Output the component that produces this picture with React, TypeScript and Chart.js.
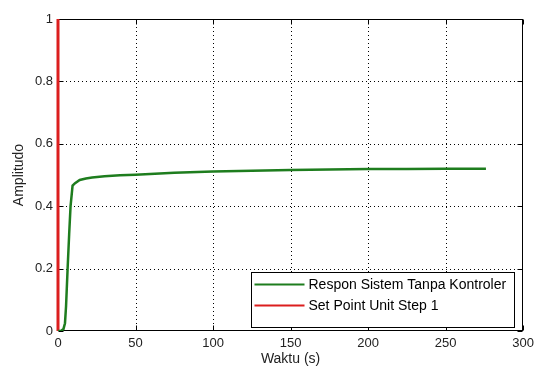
import React, { useEffect, useRef } from "react";
import { Chart, registerables } from "chart.js";

Chart.register(...registerables);

const xTicks = [0, 50, 100, 150, 200, 250, 300];
const yTicks = [0, 0.2, 0.4, 0.6, 0.8, 1];

const greenLabel = "Respon Sistem Tanpa Kontroler";
const greenT = [0, 2, 3.5, 4.5, 5.2, 6.2, 7.2, 8.1, 9.4, 11, 14, 18, 22, 30, 40, 50, 75, 100, 125, 150, 175, 200, 225, 250, 276];
const greenY = [0, 0.001, 0.006, 0.025, 0.08, 0.2, 0.31, 0.4, 0.466, 0.474, 0.484, 0.489, 0.492, 0.496, 0.499, 0.501, 0.507, 0.511, 0.514, 0.516, 0.518, 0.519, 0.519, 0.52, 0.52];

const redLabel = "Set Point Unit Step 1";
const redT = [0, 0];
const redY = [0, 1];

const GREEN = "#1e7d1e";
const RED = "#dc1e1e";
const FONT = "'Liberation Sans', Arial, sans-serif";

const framePlugin = {
  id: "matlabFrame",
  beforeDatasetsDraw(chart: any) {
    const { ctx, chartArea: a, scales } = chart;
    ctx.save();
    ctx.strokeStyle = "#000";
    ctx.lineWidth = 1;
    ctx.setLineDash([1, 3]);
    for (const v of xTicks) {
      const px = Math.round(scales.x.getPixelForValue(v)) + 0.5;
      if (px <= a.left + 1 || px >= a.right - 1) continue;
      ctx.beginPath();
      ctx.moveTo(px, a.top);
      ctx.lineTo(px, a.bottom);
      ctx.stroke();
    }
    for (const v of yTicks) {
      const py = Math.round(scales.y.getPixelForValue(v)) + 0.5;
      if (py <= a.top + 1 || py >= a.bottom - 1) continue;
      ctx.beginPath();
      ctx.moveTo(a.left, py);
      ctx.lineTo(a.right, py);
      ctx.stroke();
    }
    ctx.setLineDash([]);
    const L = Math.round(a.left) + 0.5;
    const R = Math.round(a.right) - 0.5;
    const T = Math.round(a.top) + 0.5;
    const B = Math.round(a.bottom) - 0.5;
    const tl = 5;
    ctx.beginPath();
    for (const v of xTicks) {
      const px = Math.round(scales.x.getPixelForValue(v)) + 0.5;
      ctx.moveTo(px, B);
      ctx.lineTo(px, B - tl);
      ctx.moveTo(px, T);
      ctx.lineTo(px, T + tl);
    }
    for (const v of yTicks) {
      const py = Math.round(scales.y.getPixelForValue(v)) + 0.5;
      ctx.moveTo(L, py);
      ctx.lineTo(L + tl, py);
      ctx.moveTo(R, py);
      ctx.lineTo(R - tl, py);
    }
    ctx.stroke();
    ctx.strokeRect(L, T, R - L, B - T);
    ctx.restore();
  },
  afterDraw(chart: any) {
    const { ctx, chartArea: a } = chart;
    ctx.save();
    const ds = chart.data.datasets;
    ctx.font = `14px ${FONT}`;
    let tw = 0;
    for (const d of ds) tw = Math.max(tw, ctx.measureText(d.label).width);
    const lineLen = 50;
    const w = Math.round(3 + lineLen + 4 + tw + 8);
    const rowH = 21;
    const h = Math.round(ds.length * rowH + 13);
    const bx = Math.round(a.right - 9 - w) + 0.5;
    const by = Math.round(a.bottom - 4 - h) + 0.5;
    ctx.fillStyle = "#fff";
    ctx.fillRect(bx, by, w, h);
    ctx.strokeStyle = "#000";
    ctx.lineWidth = 1;
    ctx.strokeRect(bx, by, w, h);
    ds.forEach((d: any, i: number) => {
      const cy = by + 12 + i * rowH;
      ctx.strokeStyle = d.borderColor;
      ctx.lineWidth = 2;
      ctx.beginPath();
      ctx.moveTo(bx + 3, cy);
      ctx.lineTo(bx + 3 + lineLen, cy);
      ctx.stroke();
      ctx.fillStyle = "#000";
      ctx.textBaseline = "middle";
      ctx.textAlign = "left";
      ctx.fillText(d.label, bx + 3 + lineLen + 4, cy + 1);
    });
    ctx.restore();
  },
};

export default function App() {
  const ref = useRef<HTMLCanvasElement>(null);
  useEffect(() => {
    document.body.style.margin = "0";
    const canvas = ref.current!;
    const chart = new Chart(canvas, {
      type: "scatter",
      data: {
        datasets: [
          {
            label: greenLabel,
            data: greenT.map((t, i) => ({ x: t, y: greenY[i] })),
            showLine: true,
            borderColor: GREEN,
            backgroundColor: GREEN,
            borderWidth: 2.5,
            pointRadius: 0,
            tension: 0,
          },
          {
            label: redLabel,
            data: redT.map((t, i) => ({ x: t, y: redY[i] })),
            showLine: true,
            borderColor: RED,
            backgroundColor: RED,
            borderWidth: 3,
            pointRadius: 0,
            tension: 0,
            clip: { left: 3, right: 0, top: 0, bottom: 0 },
          },
        ],
      },
      options: {
        animation: false,
        responsive: false,
        devicePixelRatio: 1,
        layout: { padding: { left: 0, right: 12, top: 19, bottom: 0 } },
        plugins: {
          legend: { display: false },
          tooltip: { enabled: false },
        },
        scales: {
          x: {
            type: "linear",
            min: 0,
            max: 300,
            afterBuildTicks: (s: any) => {
              s.ticks = xTicks.map((v) => ({ value: v }));
            },
            afterFit: (s: any) => {
              s.height = 38;
            },
            ticks: {
              color: "#222",
              font: { size: 13, family: FONT },
              padding: 5,
              maxRotation: 0,
              autoSkip: false,
              callback: (v: any) => String(v),
            },
            grid: { display: false, drawTicks: false },
            border: { display: false },
            title: {
              display: true,
              text: "Waktu (s)",
              color: "#222",
              font: { size: 14, family: FONT },
              padding: { top: 0, bottom: 1 },
            },
          },
          y: {
            type: "linear",
            min: 0,
            max: 1,
            afterBuildTicks: (s: any) => {
              s.ticks = yTicks.map((v) => ({ value: v }));
            },
            afterFit: (s: any) => {
              s.width = 58;
            },
            ticks: {
              color: "#222",
              font: { size: 13, family: FONT },
              padding: 5,
              autoSkip: false,
              callback: (v: any) => String(Math.round(v * 10) / 10),
            },
            grid: { display: false, drawTicks: false },
            border: { display: false },
            title: {
              display: true,
              text: "Amplitudo",
              color: "#222",
              font: { size: 14, family: FONT },
              padding: { top: 11, bottom: 0 },
            },
          },
        },
      },
      plugins: [framePlugin],
    });
    return () => chart.destroy();
  }, []);
  return <canvas ref={ref} width={539} height={369} style={{ display: "block" }} />;
}
